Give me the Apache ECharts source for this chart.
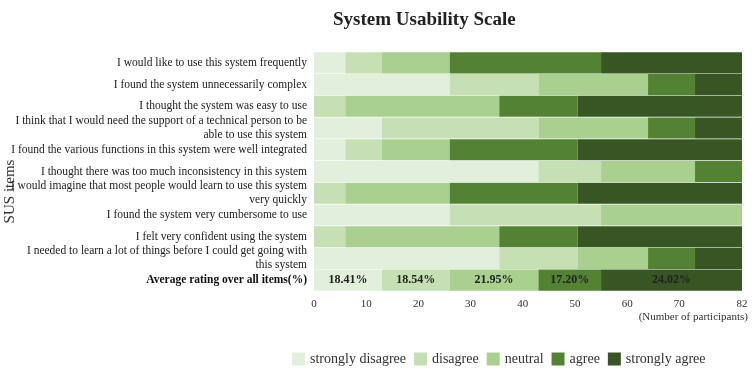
<!DOCTYPE html>
<html>
<head>
<meta charset="utf-8">
<script src="https://cdn.jsdelivr.net/npm/echarts@6/dist/echarts.min.js"></script>
<style>
  html,body {margin:0;padding:0;background:#fff;}
  #chart {width:756px;height:374px;}
</style>
</head>
<body>
<div id="chart"></div>
<script>
// SUS items, top to bottom
var items = [
  'I would like to use this system frequently',
  'I found the system unnecessarily complex',
  'I thought the system was easy to use',
  'I think that I would need the support of a technical person to be\nable to use this system',
  'I found the various functions in this system were well integrated',
  'I thought there was too much inconsistency in this system',
  'I would imagine that most people would learn to use this system\nvery quickly',
  'I found the system very cumbersome to use',
  'I felt very confident using the system',
  'I needed to learn a lot of things before I could get going with\nthis system',
  'Average rating over all items(%)'
];
var levels = ['strongly disagree', 'disagree', 'neutral', 'agree', 'strongly agree'];
var colors = ['#E2EFDA', '#C6E0B4', '#A9D08E', '#548235', '#375623'];

// number of participants per answer, one array per level
var stronglyDisagree = [6, 26, 0, 13, 6, 43, 0, 26, 0, 35.5, 13];
var disagree         = [7, 17, 6, 30, 7, 12, 6, 29, 6, 15, 13];
var neutral          = [13, 21, 29.5, 21, 13, 18, 20, 27, 29.5, 13.5, 17];
var agree            = [29, 9, 15, 9, 24.5, 9, 24.5, 0, 15, 9, 12];
var stronglyAgree    = [27, 9, 31.5, 9, 31.5, 0, 31.5, 0, 31.5, 9, 27];
var avgLabels = ['18.41%', '18.54%', '21.95%', '17.20%', '24.02%'];
var xTicks = [0, 10, 20, 30, 40, 50, 60, 70, 82];

var seriesData = [stronglyDisagree, disagree, neutral, agree, stronglyAgree];
var serif = '"Liberation Serif", "DejaVu Serif", serif';
var lastIdx = items.length - 1;

var myChart = echarts.init(document.getElementById('chart'));
var option = {
  animation: false,
  color: colors,
  title: {
    text: 'System Usability Scale',
    left: 328,
    top: 6,
    textStyle: {fontFamily: serif, fontSize: 19, fontWeight: 'bold', color: '#222'}
  },
  legend: {
    data: levels,
    left: 292,
    right: 0,
    top: 352,
    padding: 0,
    itemWidth: 13,
    itemHeight: 13,
    itemGap: 8,
    icon: 'rect',
    textStyle: {fontFamily: serif, fontSize: 14, color: '#333'}
  },
  grid: {left: 314, right: 14, top: 52, bottom: 83, outerBoundsMode: 'none'},
  xAxis: {
    type: 'value',
    min: 0,
    max: 82,
    interval: 10,
    name: '(Number of participants)',
    nameLocation: 'end',
    nameGap: 6,
    nameTextStyle: {fontFamily: serif, fontSize: 11, color: '#333', align: 'right', verticalAlign: 'top', padding: [21, 0, 0, 0]},
    axisLine: {show: false},
    axisTick: {show: false},
    splitLine: {show: false},
    axisLabel: {
      customValues: xTicks,
      fontFamily: serif, fontSize: 11, color: '#333', margin: 8
    }
  },
  yAxis: {
    type: 'category',
    inverse: true,
    data: items,
    name: 'SUS items',
    nameLocation: 'middle',
    nameGap: 296,
    nameMoveOverlap: false,
    nameTextStyle: {fontFamily: serif, fontSize: 15, color: '#333', padding: [0, 40, 0, 0]},
    axisLine: {show: false},
    axisTick: {show: false},
    axisLabel: {
      fontFamily: serif, fontSize: 11.5, color: '#222', margin: 7, lineHeight: 14,
      formatter: function (v) {
        return v === items[lastIdx] ? '{b|' + v + '}' : v;
      },
      rich: {
        b: {fontFamily: serif, fontSize: 11.5, fontWeight: 'bold', color: '#111'}
      }
    }
  },
  series: seriesData.map(function (arr, i) {
    return {
      name: levels[i],
      type: 'bar',
      stack: 'sus',
      barCategoryGap: '3%',
      data: arr,
      label: {
        show: true,
        position: 'inside',
        fontFamily: serif,
        fontSize: 12,
        fontWeight: 'bold',
        color: '#222',
        formatter: function (p) {
          return p.dataIndex === lastIdx ? avgLabels[i] : '';
        }
      }
    };
  })
};
myChart.setOption(option);
</script>
</body>
</html>
